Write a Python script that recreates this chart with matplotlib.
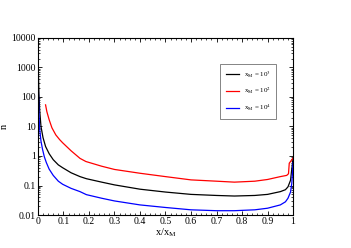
import numpy as np
import matplotlib
matplotlib.use('Agg')
import matplotlib.pyplot as plt
from matplotlib.ticker import LogLocator, FixedLocator, MultipleLocator, FuncFormatter

plt.rcParams['font.family'] = ['Liberation Serif', 'DejaVu Serif']
plt.rcParams['mathtext.fontset'] = 'stix'

# curves (n vs x/x_M)
x_black = [0.0004, 0.001, 0.002, 0.004, 0.007, 0.012, 0.02, 0.03, 0.044, 0.06, 0.08, 0.097, 0.13,
           0.165, 0.19, 0.25, 0.3, 0.4, 0.5, 0.6, 0.7, 0.77, 0.85, 0.9, 0.95, 0.97, 0.98, 0.99,
           0.995, 0.998, 1.0]
n_black = [10000, 2500, 600, 130, 35, 10, 4.2, 2.1, 1.2, 0.75, 0.5, 0.4, 0.27,
           0.2, 0.17, 0.13, 0.105, 0.075, 0.06, 0.05, 0.046, 0.044, 0.046, 0.05, 0.062, 0.072, 0.09, 0.15,
           0.37, 0.6, 0.85]

x_red = [0.03, 0.035, 0.044, 0.055, 0.07, 0.085, 0.097, 0.13, 0.165, 0.188, 0.25, 0.3, 0.4, 0.5,
         0.6, 0.7, 0.77, 0.85, 0.9, 0.95, 0.975, 0.982, 0.985, 0.99, 0.995, 1.0]
n_red = [54, 32, 17, 9, 5.2, 3.6, 2.8, 1.5, 0.83, 0.65, 0.45, 0.35, 0.26, 0.2,
         0.155, 0.14, 0.13, 0.14, 0.16, 0.2, 0.22, 0.25, 0.57, 0.65, 0.75, 0.85]

x_blue = [0.0004, 0.001, 0.002, 0.004, 0.007, 0.012, 0.018, 0.025, 0.033, 0.044, 0.06, 0.08, 0.097,
          0.13, 0.165, 0.19, 0.25, 0.3, 0.4, 0.5, 0.6, 0.7, 0.77, 0.85, 0.9, 0.95, 0.97, 0.98,
          0.99, 0.995, 0.998, 1.0]
n_blue = [10000, 800, 150, 30, 8, 3.2, 1.7, 0.95, 0.6, 0.36, 0.22, 0.14, 0.11,
          0.08, 0.062, 0.049, 0.037, 0.03, 0.022, 0.018, 0.015, 0.014, 0.014, 0.015, 0.017, 0.022, 0.028, 0.037,
          0.06, 0.12, 0.3, 0.6]

labels = [r'x$_\mathregular{M}$ = 10$^3$', r'x$_\mathregular{M}$ = 10$^2$', r'x$_\mathregular{M}$ = 10$^4$']
colors = ['black', 'red', 'blue']

fig = plt.figure(figsize=(3.51, 2.48), dpi=100)
ax = fig.add_axes([0.108, 0.133, 0.727, 0.714])

for xs, ns, c, lab in zip([x_black, x_red, x_blue], [n_black, n_red, n_blue], colors, labels):
    ax.plot(xs, ns, color=c, lw=0.9, label=lab)

ax.set_yscale('log')
ax.set_xlim(0, 1)
ax.set_ylim(0.01, 10000)
ax.xaxis.set_major_locator(MultipleLocator(0.1))
ax.xaxis.set_minor_locator(MultipleLocator(0.02))
ax.xaxis.set_major_formatter(FuncFormatter(lambda v, p: '%g' % round(v, 1)))
ax.yaxis.set_major_locator(FixedLocator([0.01, 0.1, 1, 10, 100, 1000, 10000]))
ax.yaxis.set_minor_locator(LogLocator(base=10, subs=np.arange(2, 10), numticks=20))
ax.yaxis.set_major_formatter(FuncFormatter(lambda v, p: '%g' % v))
ax.tick_params(which='both', direction='in', top=True, right=True, labelsize=7, pad=1.5)
ax.tick_params(which='major', length=3, width=0.6)
ax.tick_params(which='minor', length=1.5, width=0.5)
for s in ax.spines.values():
    s.set_linewidth(0.8)

ax.set_xlabel(r'x/x$_\mathregular{M}$', fontsize=7.5, labelpad=0)
ax.set_ylabel('n', fontsize=7.5)
ax.yaxis.set_label_coords(-0.115, 0.5)

leg = ax.legend(loc='upper left', bbox_to_anchor=(0.70, 0.875), fontsize=5, frameon=True,
                fancybox=False, edgecolor='0.3', handlelength=2.0, borderpad=0.8,
                labelspacing=0.9, handletextpad=0.6)
leg.get_frame().set_linewidth(0.6)

fig.savefig('out.png', dpi=100)
